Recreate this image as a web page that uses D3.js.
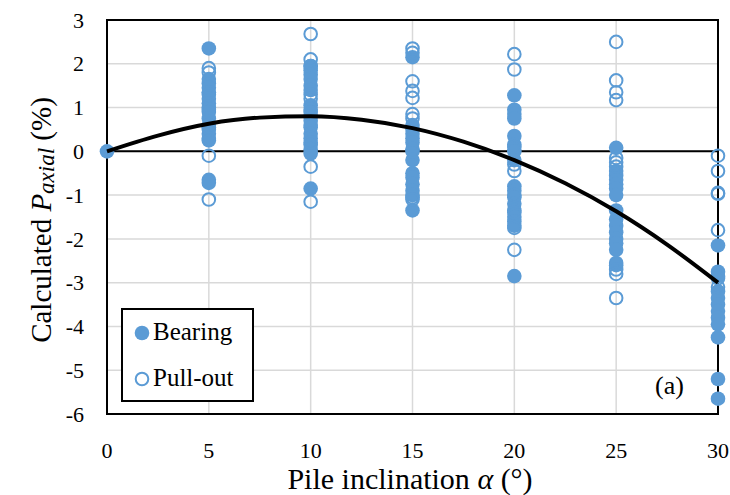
<!DOCTYPE html>
<html>
<head>
<meta charset="utf-8">
<script src="https://cdn.jsdelivr.net/npm/d3@7"></script>
<style>
  html, body { margin: 0; padding: 0; background: #fff; }
  svg, svg text { font-family: "Liberation Serif", "DejaVu Serif", serif; }
</style>
</head>
<body>
<svg id="chart" width="730" height="495"></svg>
<script>
// Pile inclination categories (degrees)
const inclinations = [0, 5, 10, 15, 20, 25, 30];

// Calculated axial load change (%) – bearing piles
const bearing = {
  0: [0],
  5: [2.35, 1.65, 1.55, 1.45, 1.35, 1.1, 1.0, 0.9, 0.75, 0.55, 0.4, 0.25, -0.65, -0.72],
  10: [1.95, 1.85, 1.75, 1.65, 1.5, 1.4, 1.05, 0.9, 0.8, 0.7, 0.55, 0.4, 0.3, 0.15, 0.05, -0.05, -0.85],
  15: [2.15, 0.6, 0.5, 0.4, 0.3, 0.2, 0.05, -0.2, -0.5, -0.6, -0.75, -0.9, -1.0, -1.35],
  20: [1.28, 0.95, 0.85, 0.75, 0.35, 0.15, 0.0, -0.2, -0.8, -0.9, -1.05, -1.2, -1.35, -1.5, -1.6, -1.7, -2.85],
  25: [0.08, -0.45, -0.55, -0.65, -0.75, -0.85, -1.0, -1.35, -1.55, -1.7, -1.85, -2.0, -2.1, -2.25, -2.55, -2.6],
  30: [-2.15, -2.75, -2.85, -3.2, -3.35, -3.5, -3.65, -3.8, -3.95, -4.25, -5.2, -5.65]
};

// Calculated axial load change (%) – pull-out piles
const pullout = {
  5: [1.9, 1.8, 1.3, 1.2, 0.95, 0.6, 0.5, 0.3, -0.1, -1.1],
  10: [2.68, 2.1, 1.95, 1.3, 1.2, 0.95, 0.6, 0.2, -0.35, -1.15],
  15: [2.35, 2.25, 1.6, 1.38, 1.22, 0.85, 0.75, 0.0, -1.05, -1.1],
  20: [2.22, 1.87, 0.1, -0.3, -0.45, -1.0, -1.4, -1.75, -2.25],
  25: [2.5, 1.62, 1.35, 1.17, -0.15, -0.25, -0.35, -2.7, -2.8, -3.35],
  30: [-0.1, -0.45, -0.95, -0.97, -1.8, -2.9, -3.1]
};

// Trend curve through the data
const trendX = [0, 2.5, 5, 7.5, 10, 12.5, 15, 17.5, 20, 22.5, 25, 27.5, 30];
const trendY = [0, 0.36, 0.63, 0.77, 0.8, 0.72, 0.53, 0.22, -0.2, -0.73, -1.37, -2.13, -3.0];

const xTicks = [0, 5, 10, 15, 20, 25, 30];
const yTicks = [3, 2, 1, 0, -1, -2, -3, -4, -5, -6];

const blue = "#5B9BD5";
const serif = "'Liberation Serif', 'DejaVu Serif', serif";
const svg = d3.select("#chart").attr("font-family", serif);

const plot = { left: 107, right: 718, top: 20, bottom: 414 };
const x = d3.scaleLinear().domain([0, 30]).range([plot.left, plot.right]);
const y = d3.scaleLinear().domain([-6, 3]).range([plot.bottom, plot.top]);

// Gridlines
const grid = svg.append("g");
grid.selectAll("line.h").data(yTicks).join("line")
  .attr("x1", plot.left).attr("x2", plot.right)
  .attr("y1", d => y(d)).attr("y2", d => y(d))
  .attr("stroke", "#d9d9d9").attr("stroke-width", 1.5);
grid.selectAll("line.v").data(xTicks.slice(1, -1)).join("line")
  .attr("x1", d => x(d)).attr("x2", d => x(d))
  .attr("y1", plot.top).attr("y2", plot.bottom)
  .attr("stroke", "#d9d9d9").attr("stroke-width", 1.5);

// Zero line
svg.append("line")
  .attr("x1", plot.left).attr("x2", plot.right)
  .attr("y1", y(0)).attr("y2", y(0))
  .attr("stroke", "#000").attr("stroke-width", 2);

// Frame
svg.append("rect")
  .attr("x", plot.left).attr("y", plot.top)
  .attr("width", plot.right - plot.left).attr("height", plot.bottom - plot.top)
  .attr("fill", "none").attr("stroke", "#000").attr("stroke-width", 2);

// Tick labels
svg.append("g").selectAll("text").data(yTicks).join("text")
  .attr("font-family", serif)
  .attr("x", 84).attr("y", d => y(d)).attr("dy", "0.35em")
  .attr("text-anchor", "end").attr("font-size", 22).text(d => d);
svg.append("g").selectAll("text").data(xTicks).join("text")
  .attr("font-family", serif)
  .attr("x", d => x(d)).attr("y", 458)
  .attr("text-anchor", "middle").attr("font-size", 22).text(d => d);

// Axis titles
const xt = svg.append("text").attr("font-family", serif).attr("x", 410).attr("y", 489)
  .attr("text-anchor", "middle").attr("font-size", 30);
xt.append("tspan").text("Pile inclination ");
xt.append("tspan").attr("font-style", "italic").text("α");
xt.append("tspan").text(" (°)");

const yt = svg.append("text").attr("font-family", serif)
  .attr("transform", "translate(51,220) rotate(-90)")
  .attr("text-anchor", "middle").attr("font-size", 29);
yt.append("tspan").text("Calculated ");
yt.append("tspan").attr("font-style", "italic").text("P");
yt.append("tspan").attr("font-style", "italic").attr("font-size", 23).attr("dy", 3).text("axial");
yt.append("tspan").attr("dy", -3).text(" (%)");

// Flatten series
const bearingPts = inclinations.flatMap(a => (bearing[a] || []).map(v => ({ a, v })));
const pulloutPts = inclinations.flatMap(a => (pullout[a] || []).map(v => ({ a, v })));

// Bearing markers
svg.append("g").selectAll("circle").data(bearingPts).join("circle")
  .attr("cx", d => x(d.a)).attr("cy", d => y(d.v)).attr("r", 7.3)
  .attr("fill", blue);

// Pull-out markers (hollow)
svg.append("g").selectAll("circle").data(pulloutPts).join("circle")
  .attr("cx", d => x(d.a)).attr("cy", d => y(d.v)).attr("r", 6.3)
  .attr("fill", "none").attr("stroke", blue).attr("stroke-width", 2);

// Trend curve
const trend = trendX.map((t, i) => [t, trendY[i]]);
svg.append("path").datum(trend)
  .attr("d", d3.line().x(d => x(d[0])).y(d => y(d[1])).curve(d3.curveMonotoneX))
  .attr("fill", "none").attr("stroke", "#000").attr("stroke-width", 4);

// Legend
const lg = svg.append("g");
lg.append("rect").attr("x", 122).attr("y", 309).attr("width", 131).attr("height", 92)
  .attr("fill", "#fff").attr("stroke", "#000").attr("stroke-width", 2);
lg.append("circle").attr("cx", 142).attr("cy", 333).attr("r", 7.3).attr("fill", blue);
lg.append("text").attr("font-family", serif).attr("x", 153).attr("y", 340)
  .attr("font-size", 25).text("Bearing");
lg.append("circle").attr("cx", 142).attr("cy", 379).attr("r", 6.3)
  .attr("fill", "#fff").attr("stroke", blue).attr("stroke-width", 2);
lg.append("text").attr("font-family", serif).attr("x", 153).attr("y", 386)
  .attr("font-size", 25).text("Pull-out");

// Panel label
svg.append("text").attr("font-family", serif).attr("x", 655).attr("y", 394)
  .attr("font-size", 26).text("(a)");
</script>
</body>
</html>
